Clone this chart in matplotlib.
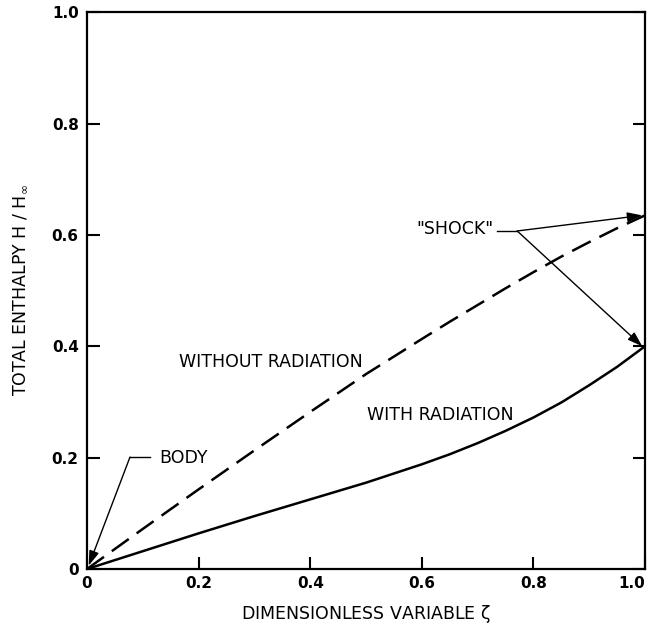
import numpy as np
import matplotlib
matplotlib.use('Agg')
import matplotlib.pyplot as plt

# values
zeta = [0.0, 0.1, 0.2, 0.3, 0.4, 0.5, 0.6, 0.65, 0.7, 0.75, 0.8, 0.85, 0.9, 0.95, 1.0]
h_without_rad = [0.0, 0.072, 0.143, 0.213, 0.282, 0.350, 0.413, 0.444, 0.474, 0.504,
                 0.533, 0.561, 0.587, 0.612, 0.635]
h_with_rad = [0.0, 0.032, 0.064, 0.095, 0.125, 0.155, 0.188, 0.206, 0.226, 0.248,
              0.272, 0.299, 0.330, 0.363, 0.400]
tick_vals = [0, 0.2, 0.4, 0.6, 0.8, 1.0]
tick_labels = ['0', '0.2', '0.4', '0.6', '0.8', '1.0']

plt.rcParams['font.family'] = ['DejaVu Sans']
plt.rcParams['mathtext.default'] = 'regular'
plt.rcParams['lines.scale_dashes'] = False

fig = plt.figure(figsize=(6.47, 6.25), dpi=100)
ax = fig.add_axes([0.1345, 0.0896, 0.8624, 0.891])

ax.plot(zeta, h_without_rad, color='black', lw=1.8, dashes=(15, 7))
ax.plot(zeta, h_with_rad, color='black', lw=1.8)

ax.set_xlim(0, 1.0)
ax.set_ylim(0, 1.0)
ax.set_xticks(tick_vals)
xl = ax.set_xticklabels(tick_labels, fontweight='bold', fontsize=11)
xl[-1].set_horizontalalignment('right')
ax.set_yticks(tick_vals)
ax.set_yticklabels(tick_labels, fontweight='bold', fontsize=11)
ax.tick_params(direction='in', length=9, width=1.5, right=True, top=False)
ax.tick_params(axis='x', pad=5)
ax.tick_params(axis='y', pad=6)
for s in ax.spines.values():
    s.set_linewidth(1.6)

ax.set_xlabel(r'DIMENSIONLESS VARIABLE $\zeta$', fontsize=12.5, labelpad=9)
ax.set_ylabel(r'TOTAL ENTHALPY H / H$_{\infty}$', fontsize=12.5, labelpad=16)

arrow = dict(arrowstyle='-|>,head_length=0.6,head_width=0.2', color='black',
             lw=1.0, shrinkA=0, shrinkB=0, mutation_scale=15)

ax.text(0.165, 0.372, 'WITHOUT RADIATION', fontsize=12.5, va='center', ha='left')
ax.text(0.502, 0.276, 'WITH RADIATION', fontsize=12.5, va='center', ha='left')

# body label
ax.text(0.129, 0.199, 'BODY', fontsize=12.5, va='center', ha='left')
ax.plot([0.113, 0.077], [0.201, 0.201], color='black', lw=1.0)
ax.annotate('', xy=(0.003, 0.006), xytext=(0.077, 0.201), arrowprops=arrow)

# shock label
ax.text(0.591, 0.611, '"SHOCK"', fontsize=12.5, va='center', ha='left')
ax.plot([0.735, 0.771], [0.607, 0.607], color='black', lw=1.0)
ax.annotate('', xy=(0.995, 0.635), xytext=(0.771, 0.607), arrowprops=arrow)
ax.annotate('', xy=(0.995, 0.400), xytext=(0.771, 0.607), arrowprops=arrow)

fig.savefig('out.png', dpi=100)
